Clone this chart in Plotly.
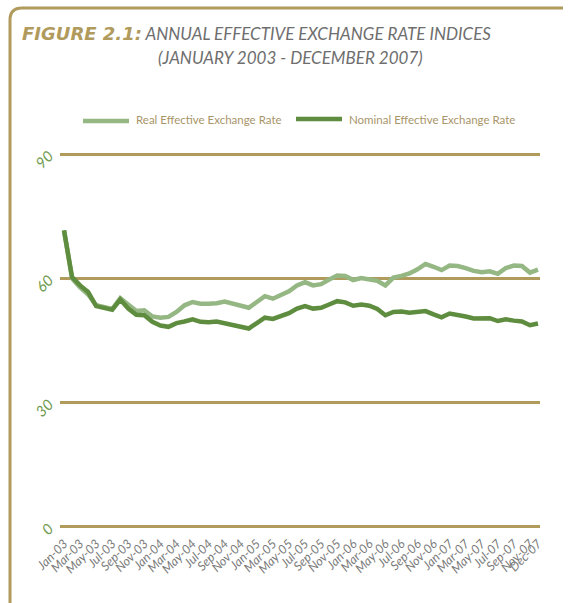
import plotly.graph_objects as go

# Monthly labels, Jan-03 .. Dec-07
month_names = ["Jan", "Feb", "Mar", "Apr", "May", "Jun",
               "Jul", "Aug", "Sep", "Oct", "Nov", "Dec"]
years = ["03", "04", "05", "06", "07"]
months = [f"{m}-{y}" for y in years for m in month_names]

# Index values
real_eer = [71.6, 60.0, 57.8, 56.1, 53.5, 53.0, 52.6, 55.2, 53.5, 52.1, 52.3, 50.8,
            50.5, 50.7, 51.9, 53.5, 54.3, 53.9, 53.9, 54.0, 54.4, 53.9, 53.3, 52.9,
            54.3, 55.7, 55.1, 56.1, 56.9, 58.3, 59.1, 58.3, 58.6, 59.7, 60.7, 60.6,
            59.6, 60.1, 59.8, 59.4, 58.3, 60.2, 60.6, 61.2, 62.2, 63.5, 62.8, 62.0,
            63.1, 63.0, 62.5, 61.8, 61.5, 61.7, 61.1, 62.5, 63.1, 63.0, 61.4, 62.1]
nominal_eer = [71.6, 60.3, 58.3, 56.7, 53.3, 52.8, 52.4, 54.9, 52.7, 51.2, 51.1, 49.5,
               48.6, 48.3, 49.2, 49.6, 50.1, 49.5, 49.4, 49.6, 49.2, 48.6, 48.3, 47.9,
               49.2, 50.5, 50.2, 50.9, 51.6, 52.7, 53.3, 52.7, 52.9, 53.7, 54.5, 54.2,
               53.4, 53.7, 53.4, 52.6, 51.1, 51.9, 52.0, 51.7, 51.9, 52.1, 51.3, 50.6,
               51.5, 51.2, 50.8, 50.3, 50.3, 50.4, 49.7, 50.1, 49.8, 49.6, 48.7, 49.1]

series_names = ["Real Effective Exchange Rate", "Nominal Effective Exchange Rate"]
tick_months = months[::2] + ["Dec-07"]
y_ticks = [0, 30, 60, 90]

GOLD = "#b09a5c"
LIGHT_GREEN = "#95b784"
DARK_GREEN = "#5f8d3f"
GREY = "#7a7a7a"
LEGEND_TEXT = "#a8956a"

W, H = 573, 603
ML, MR, MT, MB = 60, 33, 150, 72
PW, PH = W - ML - MR, H - MT - MB


def px_to_paper(x, y):
    return (x - ML) / PW, (H - MB - y) / PH


fig = go.Figure()
fig.add_trace(go.Scatter(x=months, y=real_eer, mode="lines", name=series_names[0],
                         line=dict(color=LIGHT_GREEN, width=4.5)))
fig.add_trace(go.Scatter(x=months, y=nominal_eer, mode="lines", name=series_names[1],
                         line=dict(color=DARK_GREEN, width=4.5)))

# Rounded frame open at the right and bottom
pts = [(10, 640), (10, 20), (10, 8), (22, 8), (563, 8)]
p = [px_to_paper(*q) for q in pts]
path = (f"M {p[0][0]},{p[0][1]} L {p[1][0]},{p[1][1]} "
        f"Q {p[2][0]},{p[2][1]} {p[3][0]},{p[3][1]} L {p[4][0]},{p[4][1]}")

shapes = [dict(type="path", path=path, xref="paper", yref="paper",
               line=dict(color=GOLD, width=3), layer="above")]
annotations = [
    dict(text=(f"<b><span style='color:{GOLD};font-size:18px;"
               "font-family:DejaVu Sans'>FIGURE 2.1:</span></b> "
               "ANNUAL EFFECTIVE EXCHANGE RATE INDICES"),
         x=px_to_paper(20, 33)[0], y=px_to_paper(20, 33)[1],
         xref="paper", yref="paper", xanchor="left", yanchor="middle",
         showarrow=False,
         font=dict(family="Lato", size=17, color="#6e6e6e", style="italic")),
    dict(text="(JANUARY 2003 - DECEMBER 2007)",
         x=px_to_paper(290, 57)[0], y=px_to_paper(290, 57)[1],
         xref="paper", yref="paper", xanchor="center", yanchor="middle",
         showarrow=False,
         font=dict(family="Lato", size=17, color="#6e6e6e", style="italic")),
]

# Legend: line sample followed by its label
legend_items = [(series_names[0], LIGHT_GREEN, 83, 129, 121),
                (series_names[1], DARK_GREEN, 296, 342, 119)]
for name, color, x0, x1, yy in legend_items:
    a = px_to_paper(x0, yy)
    b = px_to_paper(x1, yy)
    shapes.append(dict(type="line", xref="paper", yref="paper",
                       x0=a[0], y0=a[1], x1=b[0], y1=b[1],
                       line=dict(color=color, width=4.5)))
    t = px_to_paper(x1 + 5, 120)
    annotations.append(dict(text=name, x=t[0], y=t[1], xref="paper", yref="paper",
                            xanchor="left", yanchor="middle", showarrow=False,
                            font=dict(family="Lato", size=11.5, color=LEGEND_TEXT)))

fig.update_layout(
    width=W, height=H,
    margin=dict(l=ML, r=MR, t=MT, b=MB),
    paper_bgcolor="white", plot_bgcolor="white",
    showlegend=False,
    xaxis=dict(type="category", range=[-0.5, 59.25],
               tickmode="array", tickvals=tick_months, ticktext=tick_months,
               tickangle=-45, showgrid=False, showline=False, zeroline=False,
               ticks="", ticklabelstandoff=2,
               tickfont=dict(family="Lato", size=12.5, color=GREY, style="italic")),
    yaxis=dict(range=[-1, 91], tickmode="array", tickvals=y_ticks,
               tickangle=-45, showgrid=True, gridcolor=GOLD, gridwidth=2.5,
               zeroline=False, showline=False, ticks="", ticklabelstandoff=10,
               tickfont=dict(family="Lato", size=15, color="#6f9a4f", style="italic")),
    shapes=shapes,
    annotations=annotations,
)

fig.write_html("out.html")
